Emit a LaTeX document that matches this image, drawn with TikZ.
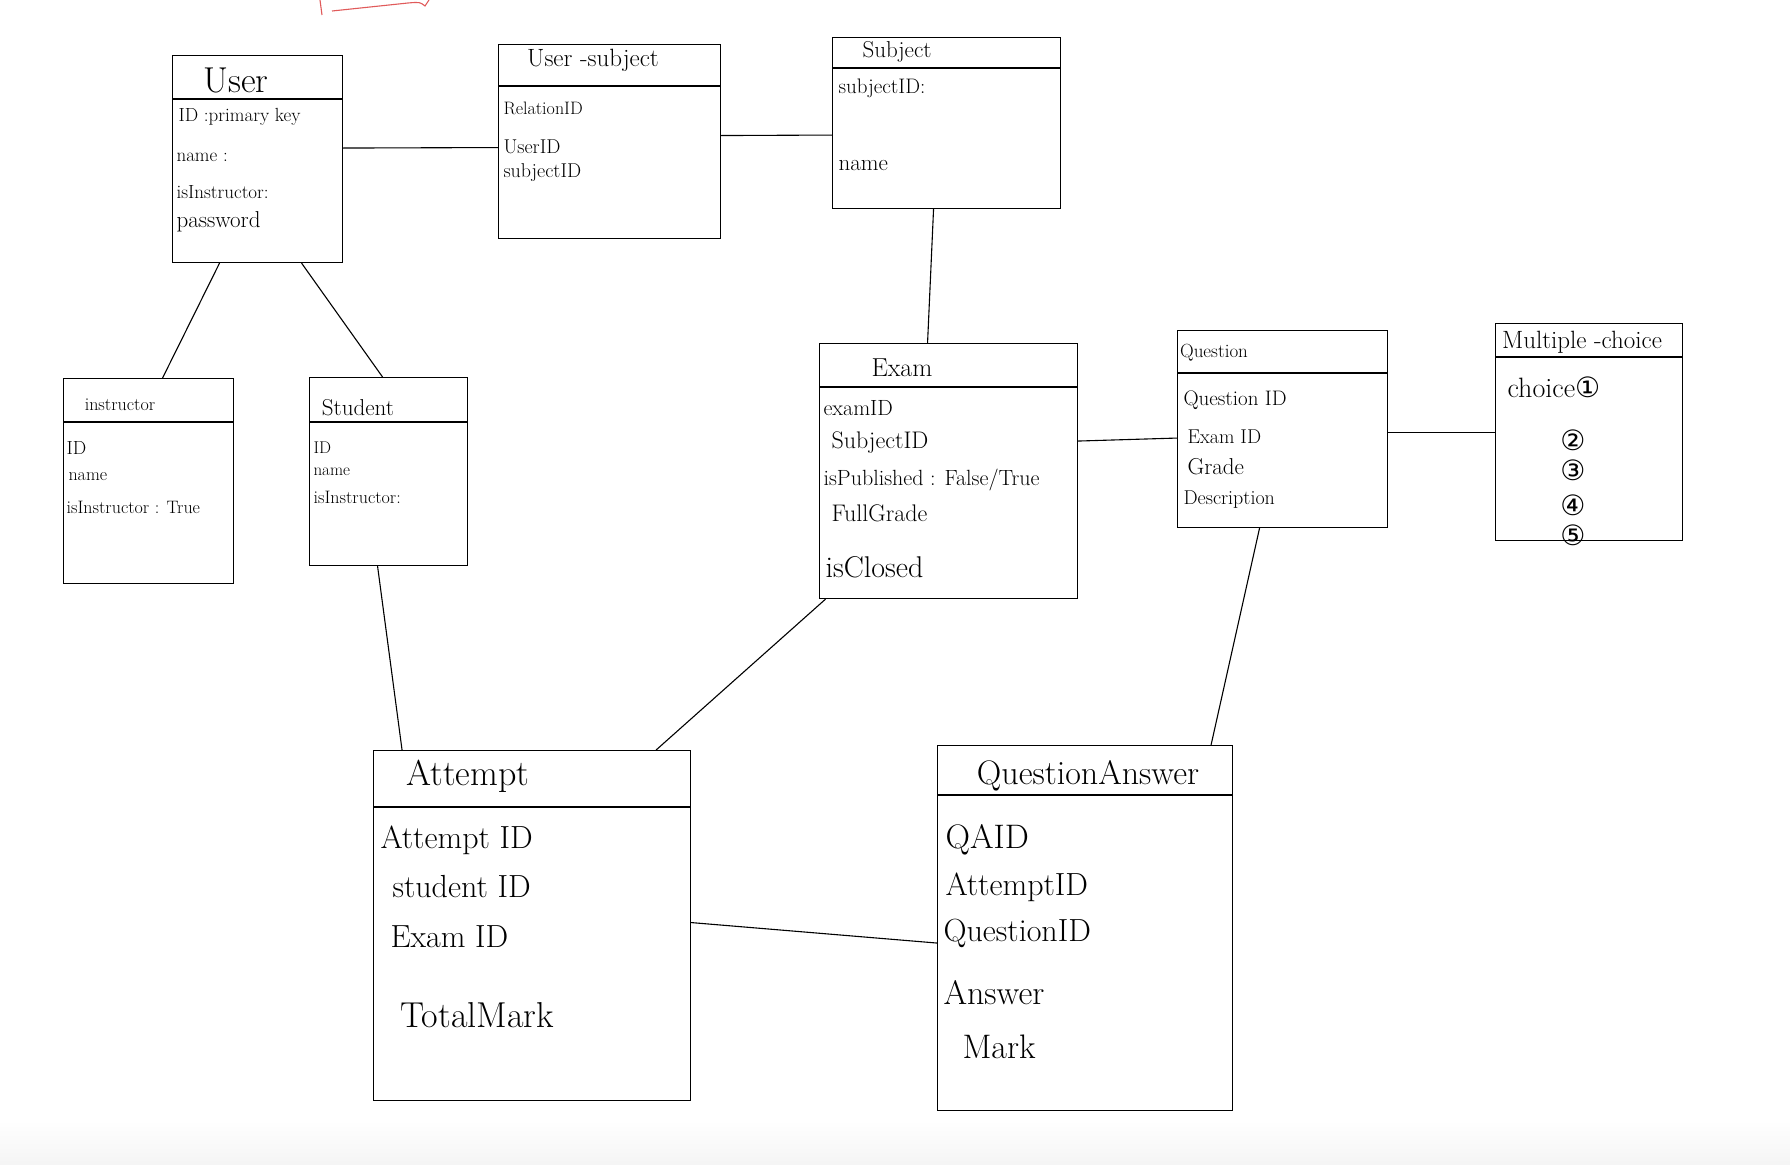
\documentclass[tikz,border=0pt]{standalone}
\usepackage{fontspec}
\newfontfamily\circfont{DejaVu Sans}
\usepackage{tikz}
\usetikzlibrary{calc}
\definecolor{penred}{HTML}{E05A5A}

\tikzset{
    tbox/.style={draw, anchor=north west, inner sep=0pt},
    tname/.style={inner sep=0pt, font=\fontsize{#1}{#1}\selectfont},
    tfield/.style={anchor=west, inner sep=0pt, font=\fontsize{#1}{#1}\selectfont},
}

\begin{document}
\begin{tikzpicture}[x=1pt,y=-1pt,line width=1.1pt]
            \useasboundingbox (0,0) rectangle (1790,1164);
            \shade[top color=white,bottom color=black!4,draw=none] (0,1120) rectangle (1790,1164);
            % red mark at the top
            \draw[penred] (320,0) -- (322,15);
            \draw[penred] (332,11) -- (408,3) .. controls (420,2) .. (425,6) -- (429,0);

            % User
            \node[tbox,minimum width=170pt,minimum height=207pt] (user) at (172,55) {};
            \draw (user.west |- 0,99) -- (user.east |- 0,99);
            \node[tname=36] (usert) at (236,80) {User};
            \node[tfield=19] (u1) at (178,117) {ID :primary key};
            \node[tfield=19] (u2) at (176,157) {name :};
            \node[tfield=19] (u3) at (176,192) {isInstructor:};
            \node[tfield=23] (u4) at (176,222) {password};

            % User - subject
            \node[tbox,minimum width=222pt,minimum height=194pt] (usersub) at (498,44) {};
            \draw (usersub.west |- 0,86) -- (usersub.east |- 0,86);
            \node[tname=25] (usersubt) at (593,60) {User -subject};
            \node[tfield=18] (us1) at (503,108) {RelationID};
            \node[tfield=20] (us2) at (503,147) {UserID};
            \node[tfield=20] (us3) at (503,173) {subjectID};

            % Subject
            \node[tbox,minimum width=228pt,minimum height=171pt] (subject) at (832,37) {};
            \draw (subject.west |- 0,68) -- (subject.east |- 0,68);
            \node[tname=23] (subjectt) at (897,52) {Subject};
            \node[tfield=21] (s1) at (838,88) {subjectID:};
            \node[tfield=23] (s2) at (838,166) {name};

            % instructor
            \node[tbox,minimum width=170pt,minimum height=205pt] (instructor) at (63,378) {};
            \draw (instructor.west |- 0,422) -- (instructor.east |- 0,422);
            \node[tname=18] (instructort) at (120,405) {instructor};
            \node[tfield=19] (i1) at (66,448) {ID};
            \node[tfield=18] (i2) at (68,477) {name};
            \node[tfield=18] (i3) at (66,507) {isInstructor : True};

            % Student
            \node[tbox,minimum width=158pt,minimum height=188pt] (student) at (309,377) {};
            \draw (student.west |- 0,422) -- (student.east |- 0,422);
            \node[tname=23] (studentt) at (358,408) {Student};
            \node[tfield=17] (st1) at (313,448) {ID};
            \node[tfield=17] (st2) at (313,472) {name};
            \node[tfield=18] (st3) at (313,497) {isInstructor:};

            % Exam
            \node[tbox,minimum width=258pt,minimum height=255pt] (exam) at (819,343) {};
            \draw (exam.west |- 0,387) -- (exam.east |- 0,387);
            \node[tname=26] (examt) at (902,368) {Exam};
            \node[tfield=22] (e1) at (823,408) {examID};
            \node[tfield=24] (e2) at (831,443) {SubjectID};
            \node[tfield=22] (e3) at (823,480) {isPublished : False/True};
            \node[tfield=24] (e4) at (831,513) {FullGrade};
            \node[tfield=30] (e5) at (825,567) {isClosed};

            % Question
            \node[tbox,minimum width=210pt,minimum height=197pt] (question) at (1177,330) {};
            \draw (question.west |- 0,373) -- (question.east |- 0,373);
            \node[tname=19] (questiont) at (1214,353) {Question};
            \node[tfield=21] (q1) at (1183,400) {Question ID};
            \node[tfield=20] (q2) at (1187,437) {Exam ID};
            \node[tfield=23] (q3) at (1187,467) {Grade};
            \node[tfield=20] (q4) at (1183,500) {Description};

            % Multiple-choice
            \node[tbox,minimum width=187pt,minimum height=217pt] (mc) at (1495,323) {};
            \draw (mc.west |- 0,357) -- (mc.east |- 0,357);
            \node[tname=25] (mct) at (1582,342) {Multiple -choice};
            \node[tfield=28] (c1) at (1507,387) {choice{\circfont ①}};
            \node[tname=28] (c2) at (1573,440) {\circfont ②};
            \node[tname=28] (c3) at (1573,470) {\circfont ③};
            \node[tname=28] (c4) at (1573,505) {\circfont ④};
            \node[tname=28] (c5) at (1573,535) {\circfont ⑤};

            % Attempt
            \node[tbox,minimum width=317pt,minimum height=350pt] (attempt) at (373,750) {};
            \draw (attempt.west |- 0,807) -- (attempt.east |- 0,807);
            \node[tname=36] (attemptt) at (468,776) {Attempt};
            \node[tfield=32] (a1) at (380,840) {Attempt ID};
            \node[tfield=32] (a2) at (392,887) {student ID};
            \node[tfield=32] (a3) at (390,937) {Exam ID};
            \node[tfield=36] (a4) at (400,1015) {TotalMark};

            % QuestionAnswer
            \node[tbox,minimum width=295pt,minimum height=365pt] (qa) at (937,745) {};
            \draw (qa.west |- 0,795) -- (qa.east |- 0,795);
            \node[tname=34] (qat) at (1088,776) {QuestionAnswer};
            \node[tfield=34] (qa1) at (945,840) {QAID};
            \node[tfield=32] (qa2) at (945,887) {AttemptID};
            \node[tfield=32] (qa3) at (943,933) {QuestionID};
            \node[tfield=34] (qa4) at (943,993) {Answer};
            \node[tfield=34] (qa5) at (962,1047) {Mark};

            % relations
            \draw ([yshift=11pt]user.east) -- ([yshift=-6pt]usersub.west);
            \draw ([yshift=6pt]usersub.east) -- ([yshift=-12pt]subject.west);
            \draw ([xshift=-38pt]user.south) -- ([xshift=14pt]instructor.north);
            \draw ([xshift=44pt]user.south) -- ([xshift=-6pt]student.north);
            \draw ([xshift=-13pt]subject.south) -- ([xshift=-21pt]exam.north);
            \draw ([yshift=30pt]exam.east) -- ([yshift=-9pt]question.west);
            \draw ([yshift=-3pt]question.east) -- (mc.west);
            \draw ([xshift=-11pt]student.south) -- ([xshift=-130pt]attempt.north);
            \draw ([xshift=-123pt]exam.south) -- ([xshift=-35pt]attempt.north east);
            \draw ([xshift=-23pt]question.south) -- ([xshift=126pt]qa.north);
            \draw ([yshift=3pt]attempt.east) -- ([yshift=-15pt]qa.west);
\end{tikzpicture}
\end{document}
